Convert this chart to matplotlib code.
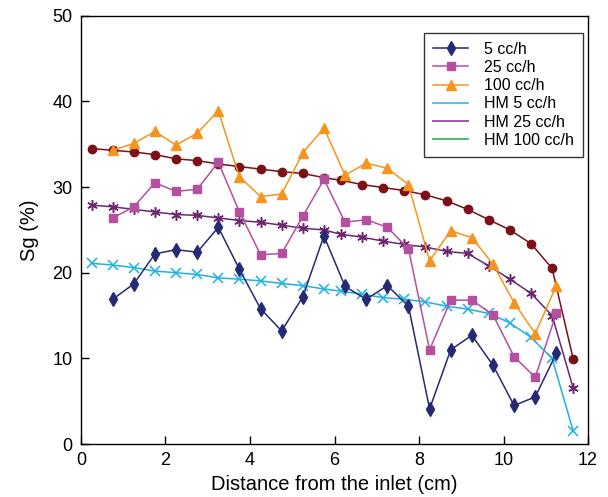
import matplotlib
matplotlib.use("Agg")
import matplotlib.pyplot as plt
from matplotlib.lines import Line2D

plt.rcParams["font.family"] = ["Liberation Sans", "DejaVu Sans"]

# 실험 데이터 (0.75 ~ 11.25 cm, 0.5 간격)
x_exp = [0.75, 1.25, 1.75, 2.25, 2.75, 3.25, 3.75, 4.25, 4.75, 5.25, 5.75,
         6.25, 6.75, 7.25, 7.75, 8.25, 8.75, 9.25, 9.75, 10.25, 10.75, 11.25]
sg_5 = [16.9, 18.7, 22.2, 22.7, 22.4, 25.3, 20.4, 15.8, 13.2, 17.2, 24.3,
        18.4, 16.9, 18.5, 16.1, 4.1, 11.0, 12.7, 9.2, 4.5, 5.5, 10.6]
sg_25 = [26.4, 27.7, 30.5, 29.5, 29.75, 32.9, 27.1, 22.1, 22.25, 26.6, 30.9,
         25.9, 26.2, 25.3, 22.8, 11.0, 16.8, 16.8, 15.1, 10.2, 7.8, 15.3]
sg_100 = [34.3, 35.1, 36.5, 34.9, 36.3, 38.9, 31.2, 28.9, 29.2, 34.0, 36.9,
          31.4, 32.8, 32.2, 30.3, 21.4, 24.9, 24.1, 21.0, 16.5, 12.9, 18.5]

# 모델(HM) 결과
x_hm = [0.25, 0.75, 1.25, 1.75, 2.25, 2.75, 3.25, 3.75, 4.25, 4.75, 5.25, 5.75,
        6.15, 6.65, 7.15, 7.65, 8.15, 8.65, 9.15, 9.65, 10.15, 10.65, 11.15, 11.65]
hm_5 = [21.1, 20.9, 20.6, 20.2, 20.0, 19.8, 19.4, 19.25, 19.05, 18.75, 18.5, 18.1,
        17.85, 17.5, 17.1, 16.9, 16.6, 16.1, 15.75, 15.25, 14.15, 12.45, 10.0, 1.5]
hm_25 = [27.9, 27.7, 27.4, 27.1, 26.8, 26.7, 26.4, 26.1, 25.9, 25.55, 25.2, 25.0,
         24.5, 24.15, 23.7, 23.3, 23.0, 22.5, 22.25, 20.8, 19.25, 17.6, 15.0, 6.5]
hm_100 = [34.5, 34.3, 34.1, 33.8, 33.3, 33.1, 32.7, 32.4, 32.1, 31.8, 31.6, 31.1,
          30.8, 30.3, 29.95, 29.6, 29.1, 28.4, 27.4, 26.2, 25.0, 23.4, 20.5, 9.9]

C5 = "#262a75"
C25 = "#b4509f"
C100 = "#f7941e"
CH5 = "#1fb1e6"
CH25 = "#6d2770"
CH100 = "#7b1116"

fig = plt.figure(figsize=(6.08, 4.97), dpi=100)
ax = fig.add_axes([0.1332, 0.1066, 0.834, 0.8615])

LW = 1.1
ax.plot(x_hm, hm_5, color=CH5, lw=LW, marker="x", ms=6.5, mew=1.1)
ax.plot(x_hm, hm_25, color=CH25, lw=LW, marker=(6, 2, 0), ms=7.5, mew=1.1)
ax.plot(x_hm, hm_100, color=CH100, lw=LW, marker="o", ms=6)
ax.plot(x_exp, sg_5, color=C5, lw=LW, marker="d", ms=7.5)
ax.plot(x_exp, sg_25, color=C25, lw=LW, marker="s", ms=5.5)
ax.plot(x_exp, sg_100, color=C100, lw=LW, marker="^", ms=7)

ax.set_xlim(0, 12)
ax.set_ylim(0, 50)
ax.set_xticks(range(0, 13, 2))
ax.set_yticks(range(0, 51, 10))
ax.tick_params(direction="in", length=6, width=1, labelsize=13, pad=6)
for s in ax.spines.values():
    s.set_linewidth(1)
ax.set_xlabel("Distance from the inlet (cm)", fontsize=14.5, labelpad=4)
ax.set_ylabel("Sg (%)", fontsize=14.5, labelpad=10)

handles = [
    Line2D([], [], color=C5, lw=LW, marker="d", ms=7),
    Line2D([], [], color=C25, lw=LW, marker="s", ms=5.5),
    Line2D([], [], color=C100, lw=LW, marker="^", ms=7),
    Line2D([], [], color=CH5, lw=LW),
    Line2D([], [], color="#a05aa6", lw=1.4),
    Line2D([], [], color="#1aa64a", lw=LW),
]
labels = ["5 cc/h", "25 cc/h", "100 cc/h", "HM 5 cc/h", "HM 25 cc/h", "HM 100 cc/h"]
leg = ax.legend(handles, labels, loc="upper right", bbox_to_anchor=(0.99, 0.96),
                borderaxespad=0, fontsize=11.5, frameon=True, fancybox=False,
                edgecolor="black", handlelength=2.2, labelspacing=0.2,
                borderpad=0.55, handletextpad=1.0)
leg.get_frame().set_linewidth(1)

fig.savefig("out.png", dpi=100)
